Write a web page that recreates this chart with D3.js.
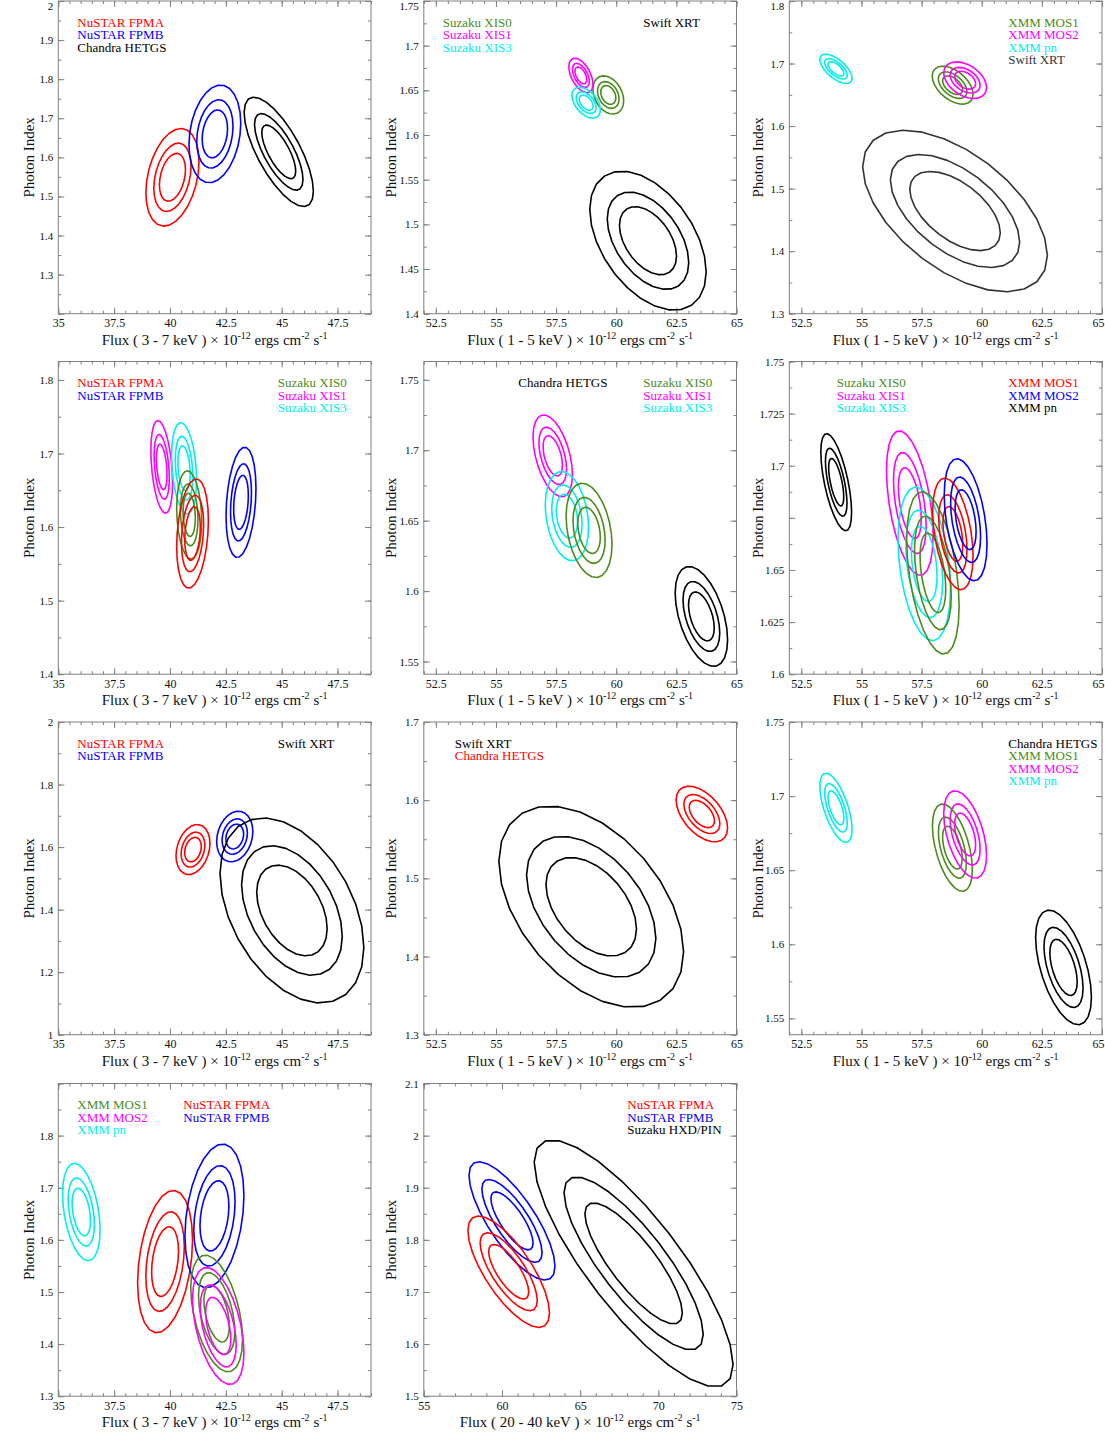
<!DOCTYPE html>
<html><head><meta charset="utf-8">
<script src="https://cdn.jsdelivr.net/npm/d3@7"></script>
<style>
body{margin:0;background:#fff;}
svg{display:block;font-family:"Liberation Serif","Times New Roman",serif;}
</style></head><body>
<svg id="chart" width="1105" height="1440"></svg>
<script>
// ---------------- DATA ----------------
const fluxBands = ["3 - 7","1 - 5","1 - 5","3 - 7","1 - 5","1 - 5","3 - 7","1 - 5","1 - 5","3 - 7","20 - 40"];
const xDomains = [[35,49],[52,65],[52,65],[35,49],[52,65],[52,65],[35,49],[52,65],[52,65],[35,49],[55,75]];
const yDomains = [[1.2,2.0],[1.4,1.75],[1.3,1.8],[1.4,1.825],[1.541,1.763],[1.6,1.75],[1.0,2.0],[1.3,1.7],[1.539,1.75],[1.3,1.9],[1.5,2.1]];
const xTicksA = [35,37.5,40,42.5,45,47.5];
const xTicksB = [52.5,55,57.5,60,62.5,65];
const xTicksC = [55,60,65,70,75];
const xTickSets = [xTicksA,xTicksB,xTicksB,xTicksA,xTicksB,xTicksB,xTicksA,xTicksB,xTicksB,xTicksA,xTicksC];
const yMajorTicks = [
 [1.2,1.3,1.4,1.5,1.6,1.7,1.8,1.9,2.0],
 [1.4,1.45,1.5,1.55,1.6,1.65,1.7,1.75],
 [1.3,1.4,1.5,1.6,1.7,1.8],
 [1.4,1.5,1.6,1.7,1.8],
 [1.55,1.6,1.65,1.7,1.75],
 [1.6,1.625,1.65,1.675,1.7,1.725,1.75],
 [1.0,1.2,1.4,1.6,1.8,2.0],
 [1.3,1.4,1.5,1.6,1.7],
 [1.55,1.6,1.65,1.7,1.75],
 [1.3,1.4,1.5,1.6,1.7,1.8,1.9],
 [1.5,1.6,1.7,1.8,1.9,2.0,2.1]
];
const yTickLabels = [
 ["1.3","1.4","1.5","1.6","1.7","1.8","1.9","2"],
 ["1.4","1.45","1.5","1.55","1.6","1.65","1.7","1.75"],
 ["1.3","1.4","1.5","1.6","1.7","1.8"],
 ["1.4","1.5","1.6","1.7","1.8"],
 ["1.55","1.6","1.65","1.7","1.75"],
 ["1.6","1.625","1.65","1.7","1.725","1.75"],
 ["1","1.2","1.4","1.6","1.8","2"],
 ["1.3","1.4","1.5","1.6","1.7"],
 ["1.55","1.6","1.65","1.7","1.75"],
 ["1.3","1.4","1.5","1.6","1.7","1.8"],
 ["1.5","1.6","1.7","1.8","1.9","2","2.1"]
];
const yMinorSteps = [0.05,0.025,0.05,0.05,0.025,0.0125,0.1,0.05,0.025,0.05,0.05];
const xMinorSteps = [0.5,0.5,0.5,0.5,0.5,0.5,0.5,0.5,0.5,0.5,1];

// contour fractions of the outer (99%) contour: 68%, 90%, 99%
const contourLevels = [0.49, 0.70, 1.0];

// each contour set: centre (cx flux, cy index), outer half-extents (ax, ay), tilt rho
const contoursP1 = [
 {inst:"NuSTAR FPMA", cx:40.11, cy:1.549, ax:1.19, ay:0.125, rho:0.32},
 {inst:"NuSTAR FPMB", cx:42.01, cy:1.660, ax:1.16, ay:0.125, rho:0.22},
 {inst:"Chandra HETGS", cx:44.87, cy:1.614, ax:1.55, ay:0.140, rho:-0.72}
];
const contoursP2 = [
 {inst:"Suzaku XIS0", cx:59.67, cy:1.6448, ax:0.64, ay:0.0214, rho:-0.30},
 {inst:"Suzaku XIS1", cx:58.53, cy:1.6667, ax:0.50, ay:0.0192, rho:-0.50},
 {inst:"Suzaku XIS3", cx:58.75, cy:1.6362, ax:0.59, ay:0.0173, rho:-0.46},
 {inst:"Swift XRT", cx:61.32, cy:1.4817, ax:2.42, ay:0.0778, rho:-0.45}
];
const contoursP3 = [
 {inst:"XMM MOS1", cx:58.79, cy:1.6654, ax:0.85, ay:0.0304, rho:-0.48},
 {inst:"XMM MOS2", cx:59.31, cy:1.6734, ax:0.89, ay:0.0293, rho:-0.40},
 {inst:"XMM pn", cx:53.94, cy:1.6915, ax:0.67, ay:0.0234, rho:-0.64},
 {inst:"Swift XRT", cx:58.89, cy:1.4642, ax:3.84, ay:0.1292, rho:-0.55}
];
const contoursP4 = [
 {inst:"Suzaku XIS1", cx:39.63, cy:1.6818, ax:0.485, ay:0.063, rho:-0.35},
 {inst:"Suzaku XIS3", cx:40.63, cy:1.680, ax:0.56, ay:0.062, rho:-0.26},
 {inst:"Suzaku XIS0", cx:40.86, cy:1.6165, ax:0.56, ay:0.060, rho:-0.15},
 {inst:"NuSTAR FPMA", cx:41.01, cy:1.5912, ax:0.71, ay:0.0743, rho:0.24},
 {inst:"NuSTAR FPMB", cx:43.18, cy:1.6336, ax:0.67, ay:0.075, rho:0.25}
];
const contoursP5 = [
 {inst:"Suzaku XIS1", cx:57.36, cy:1.696, ax:0.82, ay:0.0291, rho:-0.46},
 {inst:"Suzaku XIS3", cx:57.95, cy:1.6532, ax:0.90, ay:0.0317, rho:-0.25},
 {inst:"Suzaku XIS0", cx:58.87, cy:1.6431, ax:0.955, ay:0.0335, rho:-0.30},
 {inst:"Chandra HETGS", cx:63.54, cy:1.582, ax:1.09, ay:0.0355, rho:-0.47}
];
const contoursP6 = [
 {inst:"XMM pn", cx:53.95, cy:1.6921, ax:0.64, ay:0.0233, rho:-0.62},
 {inst:"Suzaku XIS1", cx:57.01, cy:1.6821, ax:0.97, ay:0.0347, rho:-0.45},
 {inst:"Suzaku XIS3", cx:57.61, cy:1.6529, ax:1.09, ay:0.0369, rho:-0.32},
 {inst:"Suzaku XIS0", cx:57.97, cy:1.6486, ax:1.09, ay:0.039, rho:-0.41},
 {inst:"XMM MOS1", cx:58.80, cy:1.6673, ax:0.84, ay:0.0268, rho:-0.40},
 {inst:"XMM MOS2", cx:59.33, cy:1.6741, ax:0.89, ay:0.0293, rho:-0.40}
];
const contoursP7 = [
 {inst:"NuSTAR FPMA", cx:41.03, cy:1.592, ax:0.76, ay:0.080, rho:0.25},
 {inst:"NuSTAR FPMB", cx:42.90, cy:1.6336, ax:0.81, ay:0.081, rho:0.20},
 {inst:"Swift XRT", cx:45.46, cy:1.3973, ax:3.22, ay:0.296, rho:-0.40}
];
const contoursP8 = [
 {inst:"Swift XRT", cx:58.96, cy:1.4637, ax:3.84, ay:0.1287, rho:-0.45},
 {inst:"Chandra HETGS", cx:63.56, cy:1.5823, ax:1.07, ay:0.0356, rho:-0.50}
];
const contoursP9 = [
 {inst:"XMM pn", cx:53.94, cy:1.6921, ax:0.67, ay:0.0234, rho:-0.62},
 {inst:"XMM MOS1", cx:58.78, cy:1.6652, ax:0.83, ay:0.0295, rho:-0.50},
 {inst:"XMM MOS2", cx:59.31, cy:1.6741, ax:0.89, ay:0.0295, rho:-0.48},
 {inst:"Chandra HETGS", cx:63.40, cy:1.5844, ax:1.16, ay:0.0387, rho:-0.52}
];
const contoursP10 = [
 {inst:"XMM pn", cx:36.03, cy:1.6534, ax:0.84, ay:0.0935, rho:-0.37},
 {inst:"NuSTAR FPMA", cx:39.78, cy:1.5583, ax:1.23, ay:0.1367, rho:0.30},
 {inst:"NuSTAR FPMB", cx:41.99, cy:1.646, ax:1.32, ay:0.138, rho:0.28},
 {inst:"XMM MOS1", cx:42.09, cy:1.4587, ax:1.16, ay:0.112, rho:-0.44},
 {inst:"XMM MOS2", cx:42.16, cy:1.4348, ax:1.15, ay:0.1124, rho:-0.46}
];
const contoursP11 = [
 {inst:"NuSTAR FPMB", cx:60.64, cy:1.8364, ax:2.75, ay:0.1136, rho:-0.77},
 {inst:"NuSTAR FPMA", cx:60.43, cy:1.7388, ax:2.61, ay:0.1069, rho:-0.74},
 {inst:"Suzaku HXD/PIN", cx:68.42, cy:1.7548, ax:6.36, ay:0.2369, rho:-0.82}
];
const panelContours = [contoursP1,contoursP2,contoursP3,contoursP4,contoursP5,contoursP6,contoursP7,contoursP8,contoursP9,contoursP10,contoursP11];

// legend texts per panel (groups of lines)
const legendsP1 = [["NuSTAR FPMA","NuSTAR FPMB","Chandra HETGS"]];
const legendsP2 = [["Suzaku XIS0","Suzaku XIS1","Suzaku XIS3"],["Swift XRT"]];
const legendsP3 = [["XMM MOS1","XMM MOS2","XMM pn","Swift XRT"]];
const legendsP4 = [["NuSTAR FPMA","NuSTAR FPMB"],["Suzaku XIS0","Suzaku XIS1","Suzaku XIS3"]];
const legendsP5 = [["Chandra HETGS"],["Suzaku XIS0","Suzaku XIS1","Suzaku XIS3"]];
const legendsP6 = [["Suzaku XIS0","Suzaku XIS1","Suzaku XIS3"],["XMM MOS1","XMM MOS2","XMM pn"]];
const legendsP7 = [["NuSTAR FPMA","NuSTAR FPMB"],["Swift XRT"]];
const legendsP8 = [["Swift XRT","Chandra HETGS"]];
const legendsP9 = [["Chandra HETGS","XMM MOS1","XMM MOS2","XMM pn"]];
const legendsP10 = [["XMM MOS1","XMM MOS2","XMM pn"],["NuSTAR FPMA","NuSTAR FPMB"]];
const legendsP11 = [["NuSTAR FPMA","NuSTAR FPMB","Suzaku HXD/PIN"]];
const panelLegends = [legendsP1,legendsP2,legendsP3,legendsP4,legendsP5,legendsP6,legendsP7,legendsP8,legendsP9,legendsP10,legendsP11];

// ---------------- STYLE ----------------
const RED="#ff0000", BLUE="#0000ff", GREEN="#4b8b1b", MAG="#ff00ff", CYAN="#00eef0", BLK="#000000";
const panelColors = [
 {"NuSTAR FPMA":RED,"NuSTAR FPMB":BLUE,"Chandra HETGS":BLK},
 {"Suzaku XIS0":GREEN,"Suzaku XIS1":MAG,"Suzaku XIS3":CYAN,"Swift XRT":BLK},
 {"XMM MOS1":GREEN,"XMM MOS2":MAG,"XMM pn":CYAN,"Swift XRT":"#333333"},
 {"NuSTAR FPMA":RED,"NuSTAR FPMB":BLUE,"Suzaku XIS0":GREEN,"Suzaku XIS1":MAG,"Suzaku XIS3":CYAN},
 {"Chandra HETGS":BLK,"Suzaku XIS0":GREEN,"Suzaku XIS1":MAG,"Suzaku XIS3":CYAN},
 {"Suzaku XIS0":GREEN,"Suzaku XIS1":MAG,"Suzaku XIS3":CYAN,"XMM MOS1":RED,"XMM MOS2":BLUE,"XMM pn":BLK},
 {"NuSTAR FPMA":RED,"NuSTAR FPMB":BLUE,"Swift XRT":BLK},
 {"Swift XRT":BLK,"Chandra HETGS":RED},
 {"Chandra HETGS":BLK,"XMM MOS1":GREEN,"XMM MOS2":MAG,"XMM pn":CYAN},
 {"XMM MOS1":GREEN,"XMM MOS2":MAG,"XMM pn":CYAN,"NuSTAR FPMA":RED,"NuSTAR FPMB":BLUE},
 {"NuSTAR FPMA":RED,"NuSTAR FPMB":BLUE,"Suzaku HXD/PIN":BLK}
];
const legendOffsets = [[19],[19,219.5],[219],[19,219.5],[94.5,219.5],[47.5,219],[19,219.5],[31],[219],[19,125],[203.5]];
const colX = [58.3, 423.8, 789.3];
const rowY = [1, 361.5, 722, 1083.5];
const yTitleOffset = [-24, -27.5, -26.5];
const W = 312.7, H = 312.7;
const AXIS_COL = "#808080";
const PAGE_W = 1105;

// ---------------- DRAW ----------------
const svg = d3.select("#chart");

function ellipsePts(c, k, n){
  const s = Math.sqrt(1 - c.rho*c.rho);
  return d3.range(n).map(i => {
    const t = 2*Math.PI*i/n;
    return [c.cx + k*c.ax*Math.cos(t), c.cy + k*c.ay*(c.rho*Math.cos(t) + s*Math.sin(t))];
  });
}
function rangeSteps(dom, step){
  const a = Math.ceil(dom[0]/step - 1e-6), b = Math.floor(dom[1]/step + 1e-6);
  return d3.range(a, b+1).map(i => +(i*step).toFixed(6));
}

panelContours.forEach((contours, p) => {
  const col = p % 3, row = Math.floor(p / 3);
  const ox = colX[col], oy = rowY[row];
  const g = svg.append("g").attr("transform", `translate(${ox},${oy})`);
  const x = d3.scaleLinear().domain(xDomains[p]).range([0, W]);
  const y = d3.scaleLinear().domain(yDomains[p]).range([H, 0]);
  const xMaj = xTickSets[p], yMaj = yMajorTicks[p];
  const xMin = rangeSteps(xDomains[p], xMinorSteps[p]);
  const yMin = rangeSteps(yDomains[p], yMinorSteps[p]);
  const labels = yTickLabels[p];
  const fmtY = v => { const s = String(+v.toFixed(4)); return labels.includes(s) ? s : ""; };

  const axesDefs = [
    [d3.axisBottom(x).tickValues(xMin).tickSize(-3).tickFormat(""), `translate(0,${H})`, null],
    [d3.axisTop(x).tickValues(xMin).tickSize(-3).tickFormat(""), `translate(0,0)`, null],
    [d3.axisLeft(y).tickValues(yMin).tickSize(-3).tickFormat(""), `translate(0,0)`, null],
    [d3.axisRight(y).tickValues(yMin).tickSize(-3).tickFormat(""), `translate(${W},0)`, null],
    [d3.axisTop(x).tickValues(xMaj).tickSize(-6).tickFormat(""), `translate(0,0)`, null],
    [d3.axisRight(y).tickValues(yMaj).tickSize(-6).tickFormat(""), `translate(${W},0)`, null],
    [d3.axisBottom(x).tickValues(xMaj).tickSize(-6).tickPadding(5).tickFormat(d => String(d)), `translate(0,${H})`, "x"],
    [d3.axisLeft(y).tickValues(yMaj).tickSize(-6).tickPadding(5).tickFormat(fmtY), `translate(0,0)`, "y"]
  ];
  axesDefs.forEach(([ax, tr, kind]) => {
    const a = g.append("g").attr("transform", tr).call(ax.tickSizeOuter(0));
    a.select(".domain").remove();
    a.selectAll("line").attr("stroke", AXIS_COL).attr("stroke-width", 1);
    a.selectAll("text").attr("fill", "#111")
      .attr("font-size", kind === "y" ? 11 : 12)
      .attr("font-family", '"Liberation Serif","Times New Roman",serif');
    if (kind === "y") {
      a.selectAll(".tick").each(function(d){
        const py = oy + y(d);
        if (py < 6) d3.select(this).select("text").attr("dy", "0.32em").attr("y", 6 - py);
      });
    }
    if (kind === "x") {
      a.selectAll(".tick").each(function(d){
        const px = ox + x(d);
        if (px + 8 > PAGE_W) d3.select(this).select("text").attr("text-anchor", "end").attr("x", PAGE_W - 1 - px);
      });
    }
  });

  // contours
  const line = d3.line().x(d => x(d[0])).y(d => y(d[1])).curve(d3.curveLinearClosed);
  const cg = g.append("g");
  contours.forEach(c => {
    contourLevels.forEach(k => {
      cg.append("path").attr("d", line(ellipsePts(c, k, 26)))
        .attr("fill", "none").attr("stroke", panelColors[p][c.inst])
        .attr("stroke-width", 1.6).attr("stroke-linejoin", "round");
    });
  });

  // frame
  g.append("rect").attr("width", W).attr("height", H).attr("fill", "none")
    .attr("stroke", AXIS_COL).attr("stroke-width", 1);

  // legends
  panelLegends[p].forEach((grp, gi) => {
    grp.forEach((name, li) => {
      g.append("text").attr("x", legendOffsets[p][gi]).attr("y", 25.5 + li*12.5)
        .attr("font-size", 13).attr("fill", panelColors[p][name]).text(name);
    });
  });

  // y title
  g.append("text").attr("transform", `translate(${yTitleOffset[col]},${H/2}) rotate(-90)`)
    .attr("text-anchor", "middle").attr("font-size", 15).attr("fill", "#111").text("Photon Index");

  // x title
  const t = g.append("text").attr("x", W/2).attr("y", H + 31).attr("text-anchor", "middle")
    .attr("font-size", 15).attr("fill", "#111");
  t.append("tspan").text(`Flux ( ${fluxBands[p]} keV ) \u00d7 10`);
  t.append("tspan").attr("dy", -6).attr("font-size", 10).text("-12");
  t.append("tspan").attr("dy", 6).text(" ergs cm");
  t.append("tspan").attr("dy", -6).attr("font-size", 10).text("-2");
  t.append("tspan").attr("dy", 6).text(" s");
  t.append("tspan").attr("dy", -6).attr("font-size", 10).text("-1");
});
</script>
</body></html>
